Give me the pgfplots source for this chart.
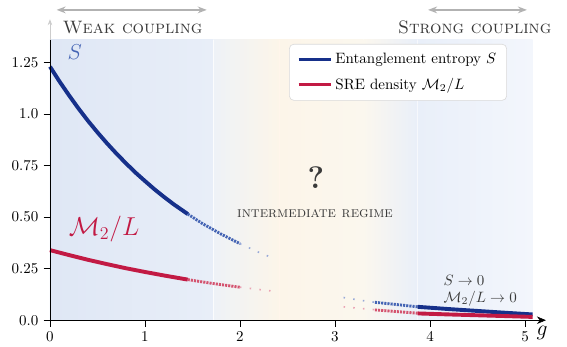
\documentclass[border=0pt]{standalone}
\usepackage{pgfplots}
\pgfplotsset{compat=1.18}
\usetikzlibrary{arrows.meta}
\definecolor{sblue}{HTML}{16308A}
\definecolor{sbluem}{HTML}{4464B4}
\definecolor{sbluel}{HTML}{96A8D8}
\definecolor{mred}{HTML}{C21A44}
\definecolor{mredm}{HTML}{D4536F}
\definecolor{mredl}{HTML}{EBA2B3}
\definecolor{bgA}{HTML}{DFE7F5}
\definecolor{bgB}{HTML}{E8EEF8}
\definecolor{bgC}{HTML}{EEF2F7}
\definecolor{bgD}{HTML}{FCF5E9}
\definecolor{bgE}{HTML}{FBF7EE}
\definecolor{bgF}{HTML}{E9EFF9}
\definecolor{bgG}{HTML}{F3F6FC}
\definecolor{txt}{HTML}{3A3A3A}
\begin{document}
\begin{tikzpicture}
\begin{axis}[
  scale only axis, width=330.7pt, height=187pt,
  xmin=0, xmax=5.22, ymin=0, ymax=1.36,
  axis x line=bottom, axis y line=left,
  x axis line style={-{Stealth[length=6pt,width=5pt]}},
  y axis line style={-},
  tick align=outside, tick style={black, thin},
  xtick={0,1,2,3,4,5},
  ytick={0,0.25,0.5,0.75,1.0,1.25},
  yticklabels={0.0,0.25,0.50,0.75,1.0,1.25},
  clip=false,
  axis on top,
  legend style={at={(axis cs:4.81,1.34)}, anchor=north east, draw=black!15, rounded corners=3pt, fill=white, font=\normalsize, inner xsep=5pt, inner ysep=4pt, row sep=4pt},
  legend cell align=left,
  legend image code/.code={\draw[#1, line width=2.4pt] (0mm,0mm) -- (7.5mm,0mm);},
]
% picture extent
\path (axis cs:-0.526,1.553) (axis cs:5.442,-0.126);
% backgrounds
\fill[left color=bgA, right color=bgB, draw=none] (axis cs:0,0) rectangle (axis cs:1.72,1.36);
\fill[left color=bgC, right color=bgD, draw=none] (axis cs:1.72,0) rectangle (axis cs:2.41,1.36);
\fill[left color=bgD, right color=bgE, draw=none] (axis cs:2.41,0) rectangle (axis cs:3.30,1.36);
\fill[left color=bgE, right color=bgF, draw=none] (axis cs:3.30,0) rectangle (axis cs:3.87,1.36);
\fill[left color=bgF, right color=bgG, draw=none] (axis cs:3.87,0) rectangle (axis cs:5.08,1.36);
\draw[white, opacity=0.8, line width=0.6pt] (axis cs:1.72,0) -- (axis cs:1.72,1.36);
\draw[white, opacity=0.6, line width=0.6pt] (axis cs:3.87,0) -- (axis cs:3.87,1.36);
\draw[orange!8, line width=0.4pt] (axis cs:2.41,0) -- (axis cs:2.41,1.36);

\addplot[sblue, line width=2.6pt] coordinates {(0,1.230) (0.1,1.158) (0.2,1.091) (0.3,1.027) (0.4,0.967) (0.5,0.911) (0.6,0.858) (0.7,0.808) (0.8,0.761) (0.9,0.716) (1.0,0.675) (1.1,0.635) (1.2,0.598) (1.3,0.563) (1.45,0.515)};
\addlegendentry{Entanglement entropy $S$}
\addplot[mred, line width=2.6pt] coordinates {(0,0.340) (0.2,0.316) (0.4,0.293) (0.6,0.272) (0.8,0.252) (1.0,0.234) (1.2,0.217) (1.45,0.197)};
\addlegendentry{SRE density $\mathcal{M}_2/L$}

\addplot[sbluem, line width=1.9pt, dash pattern=on 1.4pt off 0.7pt, forget plot] coordinates {(1.45,0.515) (1.6,0.470) (1.8,0.418) (2.0,0.371)};
\addplot[sbluel, line width=1.1pt, dash pattern=on 1.0pt off 5.5pt, forget plot] coordinates {(2.0,0.371) (2.1,0.350) (2.2,0.329) (2.35,0.301)};
\addplot[mredm, line width=1.9pt, dash pattern=on 1.4pt off 0.7pt, forget plot] coordinates {(1.45,0.197) (1.7,0.179) (2.0,0.160)};
\addplot[mredl, line width=1.1pt, dash pattern=on 1.0pt off 5.5pt, forget plot] coordinates {(2.0,0.160) (2.2,0.149) (2.35,0.141)};

\addplot[sbluel, line width=1.1pt, dash pattern=on 1.0pt off 5.5pt, forget plot] coordinates {(3.09,0.110) (3.25,0.098) (3.42,0.087)};
\addplot[sbluem, line width=1.9pt, dash pattern=on 1.4pt off 0.7pt, forget plot] coordinates {(3.42,0.087) (3.65,0.076) (3.87,0.065)};
\addplot[sblue, line width=2.6pt, forget plot] coordinates {(3.87,0.065) (4.2,0.054) (4.5,0.045) (4.8,0.036) (5.08,0.028)};
\addplot[mredl, line width=1.1pt, dash pattern=on 1.0pt off 5.5pt, forget plot] coordinates {(3.09,0.065) (3.25,0.058) (3.42,0.051)};
\addplot[mredm, line width=1.9pt, dash pattern=on 1.4pt off 0.7pt, forget plot] coordinates {(3.42,0.050) (3.65,0.042) (3.87,0.034)};
\addplot[mred, line width=2.6pt, forget plot] coordinates {(3.87,0.033) (4.2,0.028) (4.5,0.024) (4.8,0.020) (5.08,0.016)};

% annotations
\node[sbluem, font=\Large] at (axis cs:0.26,1.30) {$S$};
\node[mred, font=\LARGE] at (axis cs:0.57,0.44) {$\mathcal{M}_2/L$};
\node[txt, font=\huge\bfseries] at (axis cs:2.80,0.69) {?};
\node[txt, font=\normalsize] at (axis cs:2.79,0.515) {\textsc{intermediate regime}};
\node[txt, anchor=west, inner sep=0pt] at (axis cs:4.14,0.192) {$S\to 0$};
\node[txt, anchor=west, inner sep=0pt] at (axis cs:4.14,0.103) {$\mathcal{M}_2/L\to 0$};
\node[txt, font=\large] at (axis cs:0.87,1.42) {\textsc{Weak coupling}};
\node[txt, font=\large] at (axis cs:4.47,1.42) {\textsc{Strong coupling}};
\draw[black!30, line width=1.6pt, {Stealth[length=6pt]}-{Stealth[length=6pt]}] (axis cs:0.07,1.505) -- (axis cs:1.65,1.505);
\draw[black!30, line width=1.6pt, {Stealth[length=6pt]}-{Stealth[length=6pt]}] (axis cs:3.98,1.505) -- (axis cs:5.02,1.505);
\draw[black!20, line width=0.6pt, -{Stealth[length=4pt]}] (axis cs:0,1.36) -- (axis cs:0,1.46);
\node[font=\Large, anchor=north] at (axis cs:5.18,-0.005) {$g$};
\end{axis}
\end{tikzpicture}
\end{document}
